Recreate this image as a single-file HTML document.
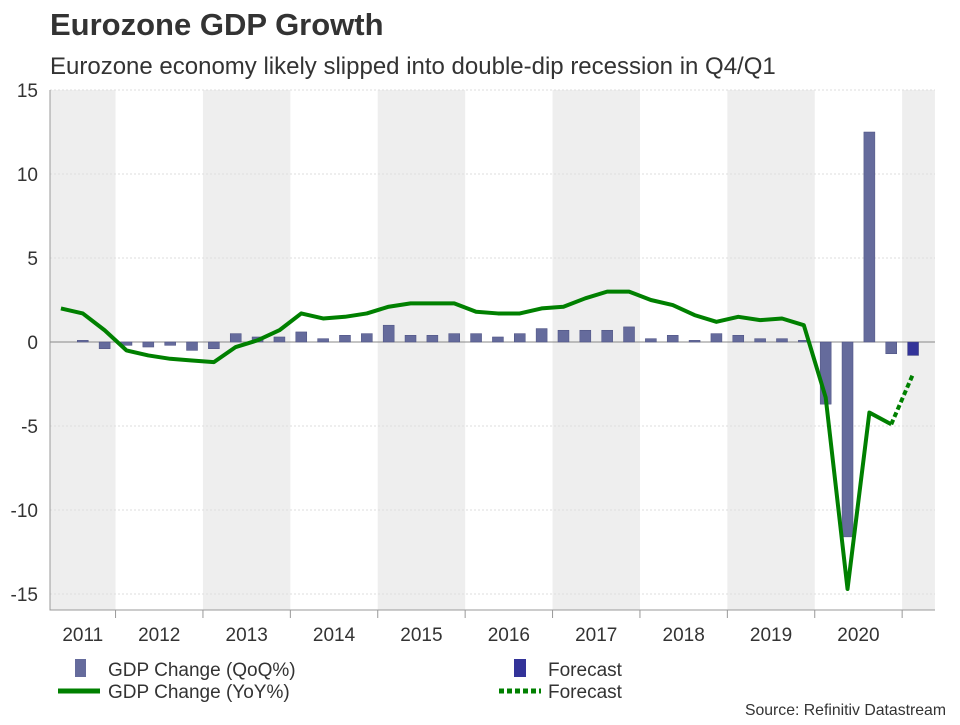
<!DOCTYPE html>
<html><head><meta charset="utf-8"><style>
body{margin:0;background:#fff;width:960px;height:720px;overflow:hidden;font-family:"Liberation Sans",sans-serif}
</style></head><body>
<svg id="c" width="960" height="720">
<text x="50" y="35" font-size="31" font-weight="bold" fill="#333">Eurozone GDP Growth</text>
<text x="50" y="74" font-size="24" fill="#333">Eurozone economy likely slipped into double-dip recession in Q4/Q1</text>
<g id="bands"></g><g id="grid"></g><g id="bars"></g><g id="lines"></g><g id="axes"></g>
<g font-size="19" fill="#333">
<rect x="75" y="659" width="11" height="18" fill="#656b9c"/>
<text x="108" y="676">GDP Change (QoQ%)</text>
<line x1="58" y1="691" x2="100" y2="691" stroke="#008000" stroke-width="5"/>
<text x="108" y="698">GDP Change (YoY%)</text>
<rect x="514" y="659" width="12" height="18" fill="#333399"/>
<text x="548" y="676">Forecast</text>
<line x1="499" y1="691" x2="541" y2="691" stroke="#008000" stroke-width="5" stroke-dasharray="5,3"/>
<text x="548" y="698">Forecast</text>
</g>
<text x="946" y="715" font-size="15.8" fill="#333" text-anchor="end">Source: Refinitiv Datastream</text>
</svg>
<script>
const years=["2011","2012","2013","2014","2015","2016","2017","2018","2019","2020"];
const qoq=[0.0,0.1,-0.4,-0.2,-0.3,-0.2,-0.5,-0.4,0.5,0.3,0.3,0.6,0.2,0.4,0.5,1.0,0.4,0.4,0.5,0.5,0.3,0.5,0.8,0.7,0.7,0.7,0.9,0.2,0.4,0.1,0.5,0.4,0.2,0.2,0.1,-3.7,-11.6,12.5,-0.7];
const qoqForecast=[-0.8];
const yoy=[2.0,1.7,0.7,-0.5,-0.8,-1.0,-1.1,-1.2,-0.3,0.1,0.7,1.7,1.4,1.5,1.7,2.1,2.3,2.3,2.3,1.8,1.7,1.7,2.0,2.1,2.6,3.0,3.0,2.5,2.2,1.6,1.2,1.5,1.3,1.4,1.0,-3.3,-14.7,-4.2,-4.9];
const yoyForecast=[-1.9];
const yTicks=[15,10,5,0,-5,-10,-15];
const L=50,R=935,T=90,B=610,QW=21.85;
const y=v=>342-v*16.8;
const xq=i=>L+(i+0.5)*QW;
const NS="http://www.w3.org/2000/svg";
function mk(p,tag,at){const e=document.createElementNS(NS,tag);for(const k in at)e.setAttribute(k,at[k]);document.getElementById(p).appendChild(e);return e;}
for(let k=0;k<=10;k++){
 const s=k===0?0:3+4*(k-1), e=Math.min(k===0?3:s+4,40.5);
 const x0=L+s*QW,x1=Math.min(L+e*QW,R);
 if(k%2===0){const r=mk('bands','rect',{x:x0,y:T,width:x1-x0,height:B-T,fill:'#eeeeee'});
 
 }
 if(k<10){const t=mk('axes','text',{x:(x0+Math.min(L+(k===0?3:s+4)*QW,R))/2,y:641,'font-size':19,fill:'#333','text-anchor':'middle'});t.textContent=years[k];
 
 }
 if(k>0){const tk=mk('axes','line',{x1:x0,x2:x0,y1:B,y2:B+8,stroke:'#999'});
 
 }
}
yTicks.forEach(v=>{
 const g=mk('grid','line',{x1:L,x2:R,y1:y(v),y2:y(v),stroke:v===0?'#888':'#ddd','stroke-dasharray':v===0?'':'2,2'});
 
 
 const t=mk('axes','text',{x:38,y:y(v)+7,'font-size':19,fill:'#333','text-anchor':'end'});t.textContent=v;
 
 
});
const ax=mk('axes','path',{d:`M${L},${T}V${B}H${R}`,fill:'none',stroke:'#999'});


function bar(i,v,c){const b=mk('bars','rect',{x:xq(i)-5.5,width:11,y:Math.min(y(v),y(0)),height:Math.abs(y(v)-y(0)),fill:c,stroke:'#4a4f80','stroke-width':0.5});return b;}
qoq.forEach((v,i)=>{const b=bar(i,v,'#656b9c');
 
 });
qoqForecast.forEach((v,j)=>{const b=bar(qoq.length+j,v,'#333399');
 
 });
const p=mk('lines','path',{d:'M'+yoy.map((v,i)=>xq(i)+','+y(v)).join('L'),fill:'none',stroke:'#008000','stroke-width':4,'stroke-linejoin':'round'});


const n=yoy.length-1;
const fp=mk('lines','path',{d:`M${xq(n)},${y(yoy[n])}`+yoyForecast.map((v,j)=>'L'+xq(n+1+j)+','+y(v)).join(''),fill:'none',stroke:'#008000','stroke-width':4,'stroke-dasharray':'5,3'});


</script>
</body></html>
